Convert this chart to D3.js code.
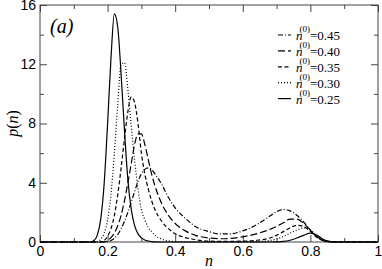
<!DOCTYPE html>
<html>
<head>
<meta charset="utf-8">
<script src="https://cdnjs.cloudflare.com/ajax/libs/d3/7.8.5/d3.min.js"></script>
<style>
  body { margin: 0; background: #fff; }
  svg { display: block; }
  .tick text { font-family: "Liberation Sans", Arial, sans-serif; font-size: 14px; fill: #000; }
  .tick line { stroke: #444; }
  .serif { font-family: "Liberation Serif", "Times New Roman", serif; fill: #000; }
</style>
</head>
<body>
<div class="chart"></div>
<script>
// n values shared by every curve
const nGrid = [0, 0.15, 0.16, 0.17, 0.18, 0.19, 0.20, 0.21, 0.22, 0.23, 0.24, 0.25, 0.26, 0.27, 0.28,
  0.29, 0.30, 0.31, 0.32, 0.33, 0.34, 0.36, 0.38, 0.40, 0.43, 0.46, 0.50, 0.53, 0.56, 0.60,
  0.64, 0.68, 0.70, 0.72, 0.74, 0.76, 0.78, 0.80, 0.82, 0.84, 0.86, 0.88, 1.0];

// p(n), one array per n(0)
const p045 = [0, 0, 0, 0, 0, 0, 0, 0.1, 0.25, 0.5, 0.9, 1.4, 2.0, 2.7, 3.4, 4.1, 4.6, 4.9, 5.0, 4.9,
  4.6, 3.9, 3.0, 2.3, 1.6, 1.05, 0.7, 0.55, 0.55, 0.75, 1.15, 1.75, 2.05, 2.2, 2.1, 1.8, 1.35, 0.8,
  0.35, 0.1, 0.02, 0, 0];
const p040 = [0, 0, 0, 0, 0, 0, 0.1, 0.3, 0.6, 1.1, 1.8, 2.8, 4.0, 5.3, 6.6, 7.3, 7.3, 6.6, 5.6, 4.6,
  3.8, 2.6, 1.8, 1.25, 0.75, 0.45, 0.27, 0.22, 0.24, 0.35, 0.55, 0.85, 1.05, 1.3, 1.55, 1.55, 1.25,
  0.8, 0.32, 0.08, 0.01, 0, 0];
const p035 = [0, 0, 0, 0, 0, 0.1, 0.4, 0.9, 1.8, 3.2, 5.0, 7.0, 8.8, 9.8, 9.4, 8.0, 6.0, 4.6, 3.6, 2.8,
  2.2, 1.4, 0.9, 0.55, 0.3, 0.15, 0.06, 0.04, 0.04, 0.06, 0.11, 0.27, 0.45, 0.7, 0.95, 1.13, 1.05,
  0.72, 0.3, 0.08, 0.01, 0, 0];
const p030 = [0, 0, 0, 0, 0.2, 0.6, 1.5, 3.2, 6.0, 9.3, 12.0, 12.1, 10.3, 7.8, 5.5, 3.6, 2.2, 1.5, 1.0,
  0.7, 0.45, 0.2, 0.08, 0.03, 0.01, 0, 0, 0, 0, 0, 0.02, 0.1, 0.2, 0.38, 0.6, 0.8, 0.95, 0.8, 0.4,
  0.12, 0.02, 0, 0];
const p025 = [0, 0, 0.1, 0.5, 1.6, 4.0, 8.0, 12.4, 15.4, 14.5, 11.3, 7.5, 4.2, 2.2, 1.1, 0.55, 0.28,
  0.14, 0.07, 0.03, 0.01, 0, 0, 0, 0, 0, 0, 0, 0, 0, 0, 0, 0.01, 0.04, 0.12, 0.27, 0.45, 0.6, 0.45,
  0.15, 0.03, 0, 0];

const seriesLabels = ["0.45", "0.40", "0.35", "0.30", "0.25"];
const seriesValues = [p045, p040, p035, p030, p025];

const xMajor = [0, 0.2, 0.4, 0.6, 0.8, 1];
const xMajorLabels = ["0", "0.2", "0.4", "0.6", "0.8", "1"];
const xMinor = [0.1, 0.3, 0.5, 0.7, 0.9];
const yMajor = [0, 4, 8, 12, 16];
const yMajorLabels = ["0", "4", "8", "12", "16"];
const yMinor = [2, 6, 10, 14];

// line styles, same order as the series
const dashes = ["5,2,1,2", "7,3", "4,2.5", "1,2", null];

const svgWidth = 382, svgHeight = 269;
const margin = {top: 5, right: 4, bottom: 27, left: 40},
  width = svgWidth - margin.left - margin.right,
  height = svgHeight - margin.top - margin.bottom;

const x = d3.scaleLinear().domain([0, 1]).range([0, width]);
const y = d3.scaleLinear().domain([0, 16]).range([height, 0]);

let svg = d3.select(".chart").append("svg")
    .attr("width", svgWidth)
    .attr("height", svgHeight)
  .append("g")
    .attr("transform", "translate(" + margin.left + "," + margin.top + ")");

// ticks point inwards on all four sides
function addAxis(axis, tx, ty) {
  const g = svg.append("g")
    .attr("transform", "translate(" + tx + "," + ty + ")")
    .call(axis);
  g.select(".domain").remove();
  return g;
}
addAxis(d3.axisBottom(x).tickValues(xMajor).tickSize(-7).tickPadding(4)
  .tickFormat((d, i) => xMajorLabels[i]), 0, height);
addAxis(d3.axisBottom(x).tickValues(xMinor).tickSize(-4).tickFormat(""), 0, height);
addAxis(d3.axisTop(x).tickValues(xMajor).tickSize(-7).tickFormat(""), 0, 0);
addAxis(d3.axisTop(x).tickValues(xMinor).tickSize(-4).tickFormat(""), 0, 0);
addAxis(d3.axisLeft(y).tickValues(yMajor).tickSize(-7).tickPadding(4)
  .tickFormat((d, i) => yMajorLabels[i]), 0, 0);
addAxis(d3.axisLeft(y).tickValues(yMinor).tickSize(-4).tickFormat(""), 0, 0);
addAxis(d3.axisRight(y).tickValues(yMajor).tickSize(-7).tickFormat(""), width, 0);
addAxis(d3.axisRight(y).tickValues(yMinor).tickSize(-4).tickFormat(""), width, 0);

svg.append("rect")
  .attr("width", width)
  .attr("height", height)
  .attr("fill", "none")
  .attr("stroke", "#444")
  .attr("stroke-width", 1);

// the curves
const line = d3.line()
  .x(d => x(d[0]))
  .y(d => y(d[1]))
  .curve(d3.curveMonotoneX);

seriesValues.forEach(function(vals, i) {
  svg.append("path")
    .datum(nGrid.map((n, j) => [n, vals[j]]))
    .attr("d", line)
    .attr("fill", "none")
    .attr("stroke", "#000")
    .attr("stroke-width", 1.2)
    .attr("stroke-dasharray", dashes[i]);
});

// legend
const legend = svg.append("g").attr("transform", "translate(" + (width - 100) + ",30)");
seriesLabels.forEach(function(lab, i) {
  const row = legend.append("g").attr("transform", "translate(0," + (i * 15.9) + ")");
  row.append("line")
    .attr("x1", 0).attr("x2", 13)
    .attr("stroke", "#000")
    .attr("stroke-width", 1.2)
    .attr("stroke-dasharray", dashes[i]);
  const t = row.append("text")
    .attr("class", "serif")
    .attr("x", 18)
    .attr("y", 5)
    .style("font-size", "13px");
  t.append("tspan").style("font-style", "italic").text("n");
  t.append("tspan").attr("dx", -3).attr("dy", -8).style("font-size", "9px").text("(0)");
  t.append("tspan").attr("dy", 8).text("=" + lab);
});

// panel label and axis titles
svg.append("text")
  .attr("class", "serif")
  .attr("x", 10)
  .attr("y", 28)
  .style("font-size", "20px")
  .style("font-style", "italic")
  .text("(a)");

svg.append("text")
  .attr("class", "serif")
  .attr("x", width / 2)
  .attr("y", height + 24)
  .attr("text-anchor", "middle")
  .style("font-size", "16px")
  .style("font-style", "italic")
  .text("n");

const yTitle = svg.append("text")
  .attr("class", "serif")
  .attr("transform", "translate(-22," + (height / 2) + ") rotate(-90)")
  .attr("text-anchor", "middle")
  .style("font-size", "16px");
yTitle.append("tspan").style("font-style", "italic").text("p");
yTitle.append("tspan").text("(");
yTitle.append("tspan").style("font-style", "italic").text("n");
yTitle.append("tspan").text(")");
</script>
</body>
</html>
